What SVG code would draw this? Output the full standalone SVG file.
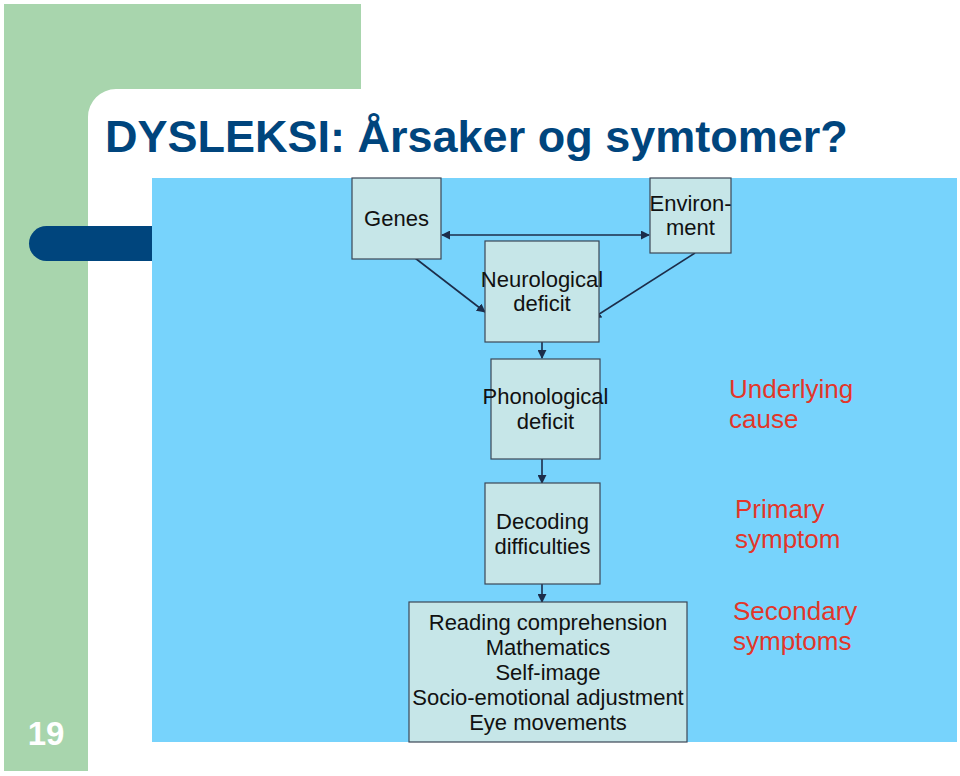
<svg xmlns="http://www.w3.org/2000/svg" width="960" height="776" viewBox="0 0 960 776">
<defs>
<style>
.box{fill:#c6e6e8;stroke:#3b4656;stroke-width:1.2}
.lbl{font-family:"Liberation Sans",Arial,sans-serif;font-size:22px;fill:#111;text-anchor:middle}
.red{font-family:"Liberation Sans",Arial,sans-serif;font-size:26px;fill:#e2362a}
.con{stroke:#1c2d4a;stroke-width:1.6;fill:none}
</style>
<marker id="ah" viewBox="0 0 10 10" refX="9" refY="5" markerWidth="9" markerHeight="9" markerUnits="userSpaceOnUse" orient="auto-start-reverse">
<path d="M0,0 L10,5 L0,10 Z" fill="#1c2d4a"/>
</marker>
</defs>
<rect width="960" height="776" fill="#ffffff"/>
<g id="background">
<path d="M4,4 H361 V89 H116 A28,28 0 0 0 88,117 V771 H4 Z" fill="#a8d5ad"/>
<rect x="29" y="226" width="160" height="35" rx="17.5" fill="#00457d"/>
<rect x="152" y="178" width="805" height="564" fill="#77d3fc"/>
<text x="105" y="152" font-family="Liberation Sans,Arial,sans-serif" font-weight="bold" font-size="45" fill="#00457d">DYSLEKSI: Årsaker og symtomer?</text>
<text x="46" y="745" font-family="Liberation Sans,Arial,sans-serif" font-weight="bold" font-size="33" fill="#ffffff" text-anchor="middle">19</text>
</g>
<g id="connectors">
<line class="con" x1="442" y1="235" x2="649" y2="235" marker-start="url(#ah)" marker-end="url(#ah)"/>
<line class="con" x1="415" y1="258" x2="485" y2="312" marker-end="url(#ah)"/>
<line class="con" x1="695" y1="253" x2="593" y2="318" marker-end="url(#ah)"/>
<line class="con" x1="542" y1="342" x2="542" y2="358" marker-end="url(#ah)"/>
<line class="con" x1="542" y1="459" x2="542" y2="483" marker-end="url(#ah)"/>
<line class="con" x1="542" y1="584" x2="542" y2="602" marker-end="url(#ah)"/>
</g>
<g id="genes">
<rect class="box" x="352" y="178" width="89" height="81"/>
<text class="lbl" x="396.5" y="226">Genes</text>
</g>
<g id="environment">
<rect class="box" x="650" y="178" width="81" height="75"/>
<text class="lbl" x="690.5" y="211">Environ-</text>
<text class="lbl" x="690.5" y="235">ment</text>
</g>
<g id="neurological">
<rect class="box" x="485" y="241" width="114" height="101"/>
<text class="lbl" x="542" y="287">Neurological</text>
<text class="lbl" x="542" y="311">deficit</text>
</g>
<g id="phonological">
<rect class="box" x="491" y="359" width="109" height="100"/>
<text class="lbl" x="545.5" y="404">Phonological</text>
<text class="lbl" x="545.5" y="429">deficit</text>
</g>
<g id="decoding">
<rect class="box" x="485" y="483" width="115" height="101"/>
<text class="lbl" x="542.5" y="529">Decoding</text>
<text class="lbl" x="542.5" y="554">difficulties</text>
</g>
<g id="secondary">
<rect class="box" x="409" y="602" width="278" height="140"/>
<text class="lbl" x="548" y="630">Reading comprehension</text>
<text class="lbl" x="548" y="655">Mathematics</text>
<text class="lbl" x="548" y="680">Self-image</text>
<text class="lbl" x="548" y="705">Socio-emotional adjustment</text>
<text class="lbl" x="548" y="730">Eye movements</text>
</g>
<g id="labels">
<text class="red" x="729" y="398">Underlying</text>
<text class="red" x="729" y="428">cause</text>
<text class="red" x="735" y="518">Primary</text>
<text class="red" x="735" y="548">symptom</text>
<text class="red" x="733" y="620">Secondary</text>
<text class="red" x="733" y="650">symptoms</text>
</g>
</svg>
